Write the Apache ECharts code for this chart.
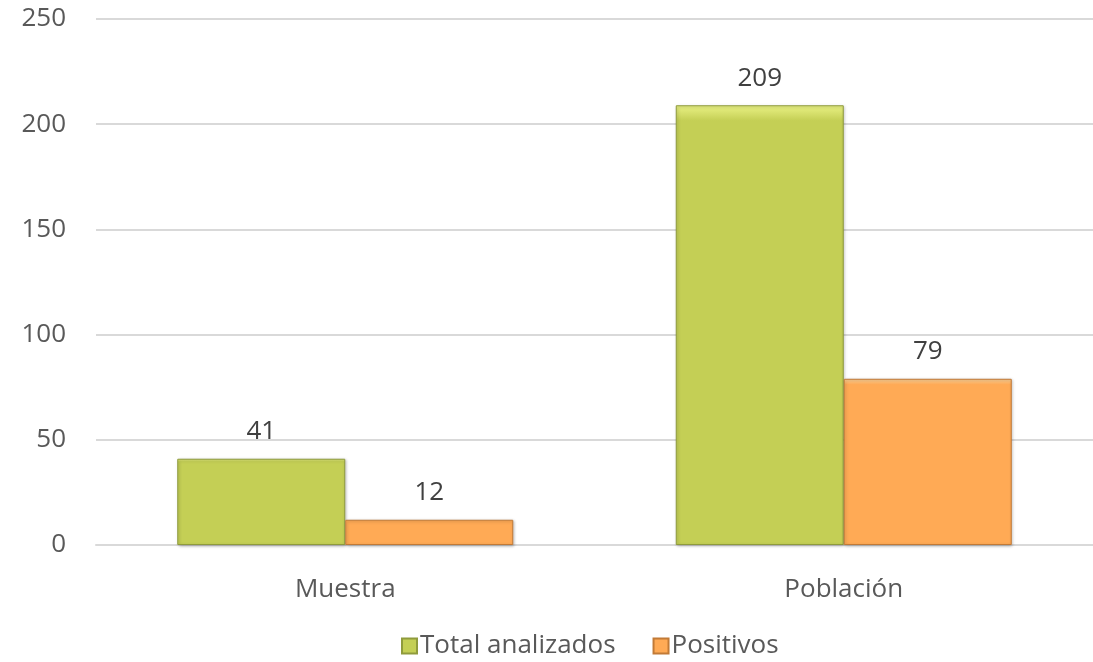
<!DOCTYPE html>
<html>
<head>
<meta charset="utf-8">
<script src="https://cdn.jsdelivr.net/npm/echarts@6/dist/echarts.min.js"></script>
<style>
html,body{margin:0;padding:0;background:#fff;}
#chart{width:1093px;height:662px;}
</style>
</head>
<body>
<div id="chart"></div>
<script>
const categories = ['Muestra', 'Población'];
const totalAnalizados = [41, 209];
const positivos = [12, 79];
const yTicks = [0, 50, 100, 150, 200, 250];

const font = '"Open Sans", "Liberation Sans", sans-serif';
const fs = 26;

// vertical gradient with a light top edge for a soft bevel look
function bevel(base, light) {
  return {
    type: 'linear', x: 0, y: 0, x2: 0, y2: 1, global: false,
    colorStops: [
      { offset: 0, color: light },
      { offset: 0.035, color: base },
      { offset: 1, color: base }
    ]
  };
}

const chart = echarts.init(document.getElementById('chart'));
chart.setOption({
  animation: false,
  textStyle: { fontFamily: font },
  grid: { left: 96, right: 0, top: 19, bottom: 117, containLabel: false },
  legend: {
    top: 628,
    left: 396,
    itemWidth: 15,
    itemHeight: 15,
    itemGap: 37,
    icon: 'rect',
    textStyle: { fontSize: fs, color: '#595959', fontFamily: font, padding: [0, 0, 0, -2] },
    data: ['Total analizados', 'Positivos']
  },
  xAxis: {
    type: 'category',
    data: categories,
    axisLine: { lineStyle: { color: '#d9d9d9', width: 2 } },
    axisTick: { show: false },
    axisLabel: { fontSize: fs, color: '#595959', margin: 32 }
  },
  yAxis: {
    type: 'value',
    min: yTicks[0],
    max: yTicks[yTicks.length - 1],
    interval: 50,
    axisLine: { show: false },
    axisTick: { show: false },
    axisLabel: { fontSize: fs, color: '#595959', margin: 30 },
    splitLine: { lineStyle: { color: '#d9d9d9', width: 2 } }
  },
  series: [
    {
      name: 'Total analizados',
      type: 'bar',
      data: totalAnalizados,
      barWidth: 168,
      barGap: '0%',
      itemStyle: {
        color: bevel('#c4cf55', '#eaf285'),
        borderColor: '#8f9b3c',
        borderWidth: 1,
        shadowColor: 'rgba(0,0,0,0.25)',
        shadowBlur: 3,
        shadowOffsetX: 1,
        shadowOffsetY: 1
      },
      label: { show: true, position: 'top', distance: 14, fontSize: fs, color: '#404040' }
    },
    {
      name: 'Positivos',
      type: 'bar',
      data: positivos,
      barWidth: 168,
      itemStyle: {
        color: bevel('#ffaa55', '#ffd59a'),
        borderColor: '#c27a36',
        borderWidth: 1,
        shadowColor: 'rgba(0,0,0,0.25)',
        shadowBlur: 3,
        shadowOffsetX: 1,
        shadowOffsetY: 1
      },
      label: { show: true, position: 'top', distance: 14, fontSize: fs, color: '#404040' }
    }
  ]
});
</script>
</body>
</html>
